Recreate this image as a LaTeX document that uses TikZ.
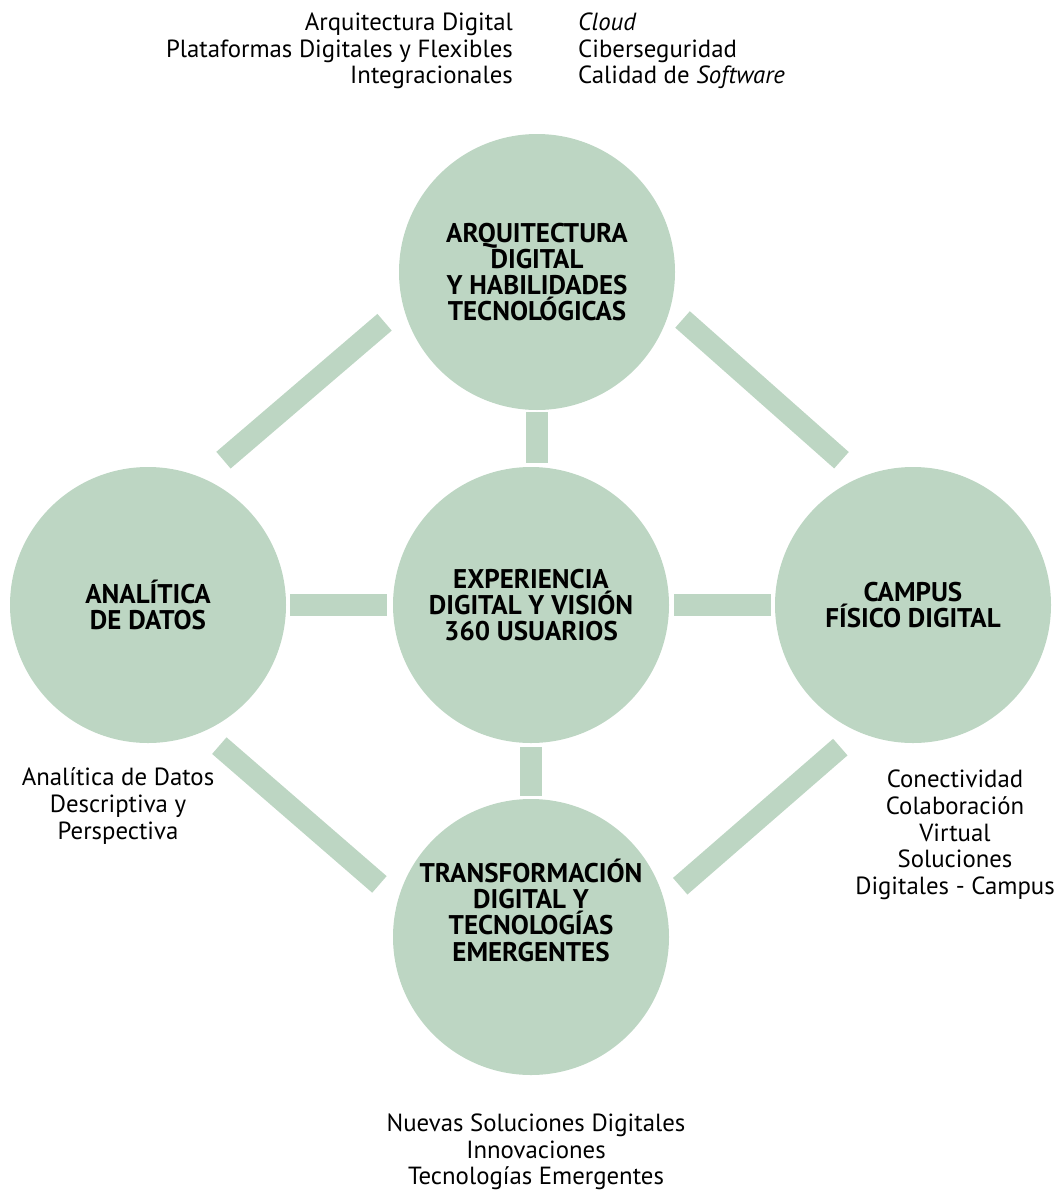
\documentclass[tikz,border=0pt]{standalone}
\usepackage{fontspec}
\setmainfont{PT Sans}
\usepackage{xcolor}
\usetikzlibrary{calc,positioning}
\definecolor{sage}{RGB}{189,214,195}
\newcommand{\tightlines}{\lineskiplimit=-10pt\relax}

\begin{document}
\begin{tikzpicture}[
  x=1pt, y=-1pt,
  hub/.style={
    circle,
    fill=sage,
    minimum size=276pt,
    inner sep=0pt,
    outer sep=0pt,
    align=center,
    font=\fontsize{27}{26.3}\selectfont\bfseries\tightlines
  },
  note/.style={
    inner sep=0pt,
    font=\fontsize{24.8}{26.7}\selectfont
  },
  bar/.style={
    draw=sage,
    line width=22pt
  }
]
\useasboundingbox (0,0) rectangle (1059,1191);

% Circles
\node[hub] (center) at (531,605)
  {EXPERIENCIA\\DIGITAL Y VISIÓN\\360 USUARIOS};
\node[hub] (top) at (537,272)
  {ARQUITECTURA\\DIGITAL\\Y HABILIDADES\\TECNOLÓGICAS};
\node[hub] (left) at (148,605)
  {ANALÍTICA\\DE DATOS};
\node[hub] (right) at (913,605)
  {CAMPUS\\FÍSICO DIGITAL};
\node[hub] (bottom) at (531,937) {};
\node[hub, fill=none] (bottomtext) at (531,910)
  {TRANSFORMACIÓN\\DIGITAL Y\\TECNOLOGÍAS\\EMERGENTES};

% Straight links to the centre
\draw[bar, shorten <=2pt, shorten >=4pt]
  (top.south) -- (top.south |- center.north);
\draw[bar, shorten <=4pt, shorten >=3pt]
  (center.south) -- (center.south |- bottom.north);
\draw[bar, shorten <=4pt, shorten >=6pt]
  (left.east) -- (center.west);
\draw[bar, shorten <=5pt, shorten >=4pt]
  (center.east) -- (right.west);

% Outer diamond
\draw[bar, shorten <=148pt, shorten >=152pt]
  ($(top)+(-40,-46)$) -- ($(left)+(-40,-46)$);
\draw[bar, shorten <=141pt, shorten >=149pt]
  ($(top)+(40,-46)$) -- ($(right)+(40,-46)$);
\draw[bar, shorten <=146pt, shorten >=149pt]
  ($(left)+(-39,45)$) -- ($(bottom)+(-39,45)$);
\draw[bar, shorten <=148pt, shorten >=146pt]
  ($(right)+(39,45)$) -- ($(bottom)+(39,45)$);

% Lists of topics
\node[note, anchor=east, align=right] (toplist) at (513,51)
  {Arquitectura Digital\\Plataformas Digitales y Flexibles\\Integracionales};
\node[note, anchor=west, align=left] (toplist2) at (578,51)
  {\textit{Cloud}\\Ciberseguridad\\Calidad de \textit{Software}};
\node[note, align=center] (leftlist) at (118,806)
  {Analítica de Datos\\Descriptiva y\\Perspectiva};
\node[note, align=center] (rightlist) at (955,835)
  {Conectividad\\Colaboración\\Virtual\\Soluciones\\Digitales - Campus};
\node[note, align=center] (bottomlist) at (536,1152)
  {Nuevas Soluciones Digitales\\Innovaciones\\Tecnologías Emergentes};

\end{tikzpicture}
\end{document}
